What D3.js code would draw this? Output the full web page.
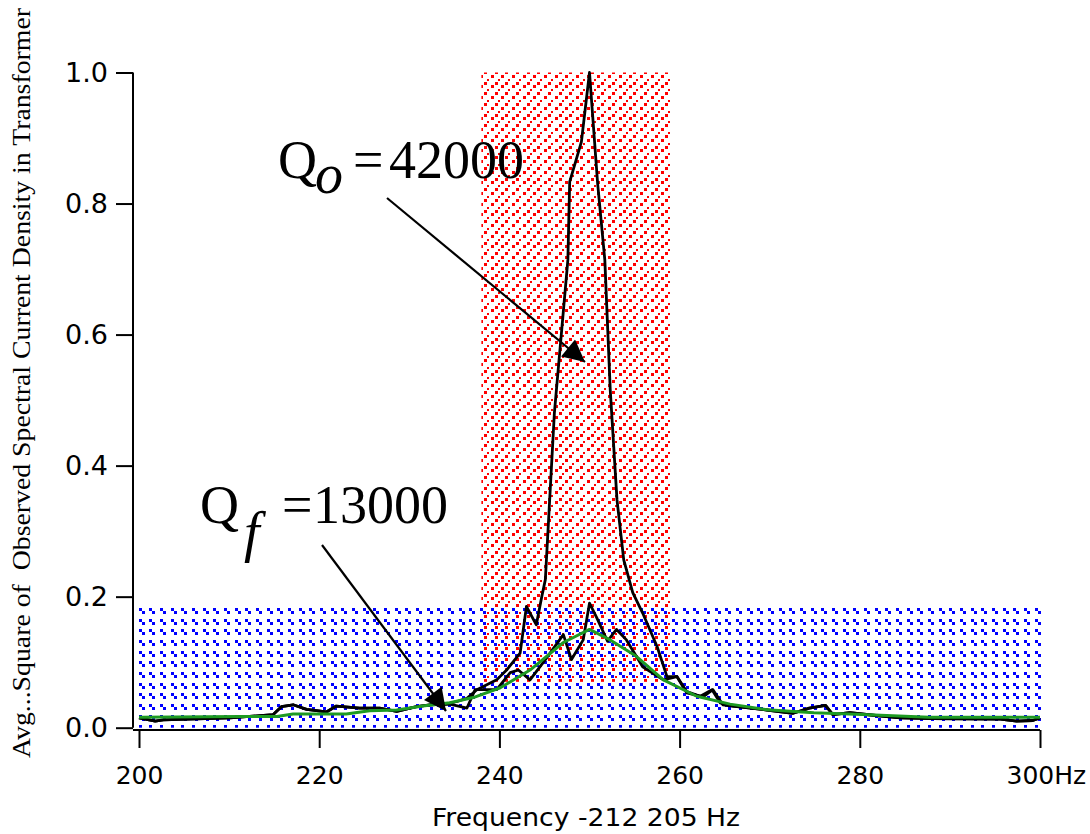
<!DOCTYPE html>
<html>
<head>
<meta charset="utf-8">
<script src="https://cdn.jsdelivr.net/npm/d3@7"></script>
<style>
  html, body { margin: 0; padding: 0; background: #fff; }
  svg { display: block; }
</style>
</head>
<body>
<svg id="chart" width="1090" height="834"></svg>
<script>
// Frequency offsets (Hz above 212 205 Hz) and normalised averaged spectral density

// Narrow resonance, Q_o = 42000
const qoFreq = [200, 201.8, 202.7, 210.1, 214.9, 215.8, 217.1, 218.6, 220.8, 221.9, 224.5, 226.7, 228.6, 230.8, 232.3, 234.0, 235.3, 236.4,
  237.5, 239.7, 240.8, 242.3, 243.0, 244.1, 244.7, 245.1, 246.1, 247.6, 247.8, 249.1, 250.0, 250.9, 251.7, 252.3, 253.05, 253.8, 254.8,
  255.9, 257.5, 258.6, 259.7, 260.8, 262.3, 263.6, 264.5, 265.9, 269.7, 272.6, 274.4, 276.2, 277.0, 278.9, 281.5, 284.5, 288.1, 295.6, 297.4, 299.2, 300];
const qoValues = [0.015, 0.010, 0.012, 0.015, 0.020, 0.032, 0.035, 0.028, 0.024, 0.033, 0.030, 0.030, 0.025, 0.032, 0.035, 0.036, 0.040, 0.045,
  0.058, 0.073, 0.088, 0.114, 0.185, 0.157, 0.200, 0.226, 0.480, 0.714, 0.833, 0.894, 1.000, 0.831, 0.714, 0.516, 0.348, 0.256, 0.206,
  0.175, 0.124, 0.078, 0.078, 0.055, 0.048, 0.058, 0.038, 0.033, 0.027, 0.022, 0.030, 0.034, 0.020, 0.023, 0.019, 0.015, 0.014, 0.013, 0.010, 0.011, 0.015];

// Broad resonance, Q_f = 13000
const qfFreq = [200, 201.8, 202.7, 210.1, 214.9, 215.8, 217.1, 218.6, 220.8, 221.9, 224.5, 226.7, 228.6, 230.8, 232.3, 234.5, 236.4,
  237.3, 239.7, 241.2, 242.1, 243.4, 245.1, 247.1, 248.0, 249.3, 250.0, 250.8, 252.0, 253.0, 254.1, 255.9, 258.2, 259.7, 260.8,
  262.6, 263.7, 264.8, 265.9, 269.7, 272.6, 274.4, 276.2, 277.0, 278.9, 281.5, 284.5, 288.1, 295.6, 297.4, 299.2, 300];
const qfValues = [0.015, 0.010, 0.012, 0.015, 0.020, 0.032, 0.035, 0.028, 0.024, 0.033, 0.030, 0.030, 0.025, 0.032, 0.035, 0.036, 0.030,
  0.058, 0.058, 0.084, 0.088, 0.073, 0.104, 0.142, 0.104, 0.134, 0.190, 0.168, 0.132, 0.150, 0.134, 0.093, 0.073, 0.078, 0.053,
  0.047, 0.058, 0.035, 0.033, 0.027, 0.022, 0.030, 0.034, 0.020, 0.023, 0.019, 0.015, 0.014, 0.013, 0.010, 0.011, 0.015];

// Fitted profile
const fitFreq = [200, 211.2, 215.3, 217.1, 223.0, 225.6, 228.6, 231.5, 234.5, 237.1, 240.1, 243.4, 247.1, 250.0, 252.3, 255.2, 258.2,
  261.9, 265.6, 269.7, 274.9, 280.3, 287.7, 300];
const fitValues = [0.016, 0.017, 0.017, 0.021, 0.021, 0.026, 0.027, 0.033, 0.038, 0.046, 0.061, 0.088, 0.130, 0.150, 0.134, 0.109, 0.073,
  0.048, 0.036, 0.0275, 0.023, 0.020, 0.016, 0.016];

// Shaded bands: [start Hz, end Hz, bottom, top]
const bandFo = [238, 259, 0.07, 1.0];
const bandFf = [200, 300.2, 0, 0.187];

const xTicks = [200, 220, 240, 260, 280, 300];
const yTicks = [0, 0.2, 0.4, 0.6, 0.8, 1.0];

const svg = d3.select("#chart");
const x = d3.scaleLinear().domain([200, 300]).range([139, 1040]);
const y = d3.scaleLinear().domain([0, 1]).range([727.7, 72.5]);

// Dither fill patterns for the two bands (32 px tiles = 3 x 3 cells)
const defs = svg.append("defs");
const cells = [0, 11, 21];
const pRed = defs.append("pattern").attr("id", "dotsRed")
  .attr("patternUnits", "userSpaceOnUse").attr("width", 32).attr("height", 32);
cells.forEach(cx => cells.forEach(cy => {
  [[0, 0, 3], [7, 4, 2], [4, 7, 3]].forEach(([px, py, s]) =>
    pRed.append("rect").attr("x", cx + px).attr("y", cy + py).attr("width", s).attr("height", s)
      .attr("fill", "#ff0000").attr("shape-rendering", "crispEdges"));
}));
const pBlue = defs.append("pattern").attr("id", "dotsBlue")
  .attr("patternUnits", "userSpaceOnUse").attr("width", 32).attr("height", 32);
cells.forEach(cx => cells.forEach(cy => {
  [[0, 0], [3, 3]].forEach(([px, py]) =>
    pBlue.append("rect").attr("x", cx + px).attr("y", cy + py).attr("width", 3).attr("height", 3)
      .attr("fill", "#0000ff").attr("shape-rendering", "crispEdges"));
}));

svg.append("rect")
  .attr("x", x(bandFo[0])).attr("width", x(bandFo[1]) - x(bandFo[0]))
  .attr("y", y(bandFo[3])).attr("height", y(bandFo[2]) - y(bandFo[3]))
  .attr("fill", "url(#dotsRed)");
svg.append("rect")
  .attr("x", x(bandFf[0])).attr("width", x(bandFf[1]) - x(bandFf[0]))
  .attr("y", y(bandFf[3])).attr("height", y(bandFf[2]) - y(bandFf[3]))
  .attr("fill", "url(#dotsBlue)");

// Spectra
const line = (fx, fv) => d3.line().x((d, i) => x(fx[i])).y((d, i) => y(fv[i]))(fv);
svg.append("path").attr("d", line(qfFreq, qfValues))
  .attr("fill", "none").attr("stroke", "#000").attr("stroke-width", 2.8).attr("stroke-linejoin", "round");
svg.append("path").attr("d", line(qoFreq, qoValues))
  .attr("fill", "none").attr("stroke", "#000").attr("stroke-width", 2.8).attr("stroke-linejoin", "round");
svg.append("path").attr("d", line(fitFreq, fitValues))
  .attr("fill", "none").attr("stroke", "#1e9a22").attr("stroke-width", 3).attr("stroke-linejoin", "round");

// Axes
const tickFont = "'DejaVu Sans', Verdana, sans-serif";
const yAxis = svg.append("g").attr("transform", "translate(133,0)")
  .call(d3.axisLeft(y).tickValues(yTicks).tickFormat(d3.format(".1f")).tickSize(17).tickPadding(8).tickSizeOuter(0));
const xAxis = svg.append("g").attr("transform", "translate(0,730)")
  .call(d3.axisBottom(x).tickValues(xTicks).tickFormat(d => d === 300 ? "300Hz" : d).tickSize(18).tickPadding(18).tickSizeOuter(0));
[yAxis, xAxis].forEach(g => {
  g.select(".domain").remove();
  g.selectAll(".tick line").attr("stroke", "#000").attr("stroke-width", 2);
  g.selectAll(".tick text").attr("fill", "#000").style("font-family", tickFont);
});
yAxis.selectAll(".tick text").style("font-size", "27px");
xAxis.selectAll(".tick text").style("font-size", "25px");
xAxis.selectAll(".tick text").filter(d => d === 300).attr("text-anchor", "start").attr("x", -34);
svg.append("line").attr("x1", 133).attr("x2", 133).attr("y1", y(1)).attr("y2", y(0))
  .attr("stroke", "#000").attr("stroke-width", 2);
svg.append("line").attr("x1", 133).attr("x2", 1040).attr("y1", 730).attr("y2", 730)
  .attr("stroke", "#000").attr("stroke-width", 2);

svg.append("text").attr("x", 586).attr("y", 826).attr("text-anchor", "middle")
  .attr("textLength", 308).attr("lengthAdjust", "spacingAndGlyphs")
  .style("font-family", tickFont).style("font-size", "25px")
  .text("Frequency -212 205 Hz");

svg.append("text").attr("transform", "translate(30,383) rotate(-90)").attr("text-anchor", "middle")
  .attr("textLength", 750).attr("lengthAdjust", "spacingAndGlyphs")
  .style("white-space", "pre")
  .style("font-family", "'Liberation Serif', 'Times New Roman', serif").style("font-size", "26px")
  .text("Avg...Square of  Observed Spectral Current Density in Transformer");

// Q annotations with arrows
const serif = "'Liberation Serif', 'Times New Roman', serif";
defs.append("marker").attr("id", "head").attr("viewBox", "0 0 10 10").attr("refX", 10).attr("refY", 5)
  .attr("markerUnits", "userSpaceOnUse").attr("markerWidth", 30).attr("markerHeight", 22).attr("orient", "auto")
  .append("path").attr("d", "M0,0 L10,5 L0,10 Z").attr("fill", "#000");

function qLabel(qx, baseY, sub, subDx, subDy, eqX, num, numX) {
  const t = svg.append("g").style("font-family", serif);
  t.append("text").attr("x", qx).attr("y", baseY).style("font-size", "54px").text("Q");
  t.append("text").attr("x", qx + subDx).attr("y", baseY + subDy).style("font-size", "56px").style("font-style", "italic").text(sub);
  t.append("text").attr("x", eqX).attr("y", baseY).style("font-size", "54px").text("=");
  t.append("text").attr("x", numX).attr("y", baseY).style("font-size", "54px").text(num);
}
qLabel(278, 178, "o", 37, 15, 353, "42000", 389);
qLabel(200, 523, "f", 44, 28, 282, "13000", 313);

svg.append("line").attr("x1", 387).attr("y1", 198).attr("x2", 585).attr("y2", 362)
  .attr("stroke", "#000").attr("stroke-width", 2.2).attr("marker-end", "url(#head)");
svg.append("line").attr("x1", 322).attr("y1", 545).attr("x2", 446).attr("y2", 711)
  .attr("stroke", "#000").attr("stroke-width", 2.2).attr("marker-end", "url(#head)");
</script>
</body>
</html>
